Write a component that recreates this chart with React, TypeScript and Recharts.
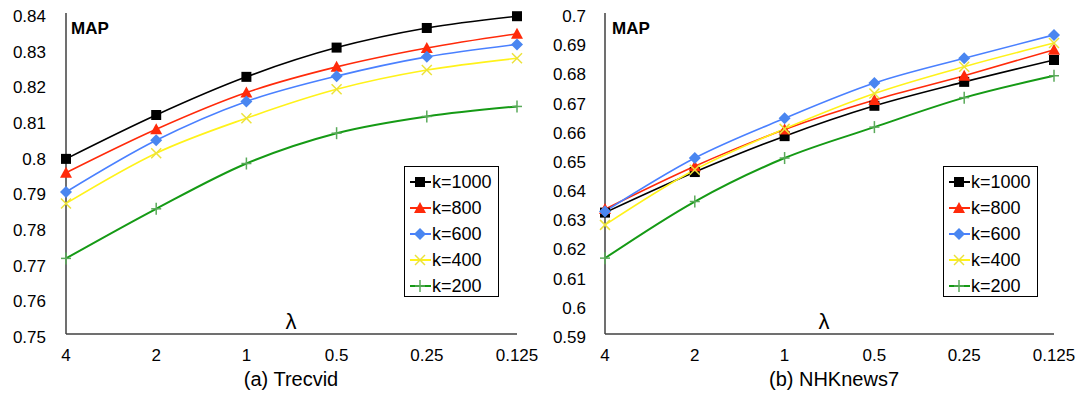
import React from 'react';
import { LineChart, Line, XAxis, YAxis } from 'recharts';

const lambdas = ['4', '2', '1', '0.5', '0.25', '0.125'];

// (a) Trecvid
const trecvidK1000 = [0.7991, 0.8114, 0.8221, 0.8303, 0.8358, 0.8391];
const trecvidK800 = [0.7952, 0.8074, 0.8177, 0.8249, 0.8302, 0.8342];
const trecvidK600 = [0.7898, 0.8043, 0.8152, 0.8223, 0.8277, 0.8312];
const trecvidK400 = [0.7866, 0.8007, 0.8105, 0.8186, 0.824, 0.8273];
const trecvidK200 = [0.7712, 0.7851, 0.7978, 0.8063, 0.811, 0.8138];
const trecvidTicks = [0.75, 0.76, 0.77, 0.78, 0.79, 0.8, 0.81, 0.82, 0.83, 0.84];

// (b) NHKnews7
const nhkK1000 = [0.6316, 0.6455, 0.6578, 0.6682, 0.6764, 0.6839];
const nhkK800 = [0.6328, 0.6475, 0.6601, 0.6702, 0.6785, 0.6874];
const nhkK600 = [0.632, 0.6503, 0.6639, 0.676, 0.6845, 0.6925];
const nhkK400 = [0.6274, 0.6463, 0.6603, 0.6724, 0.6816, 0.6897];
const nhkK200 = [0.616, 0.6354, 0.6503, 0.6609, 0.671, 0.6785];
const nhkTicks = [0.59, 0.6, 0.61, 0.62, 0.63, 0.64, 0.65, 0.66, 0.67, 0.68, 0.69, 0.7];

const series = [
  { key: 'k1000', name: 'k=1000', color: '#000000', mark: '#000000', marker: 'square' },
  { key: 'k800', name: 'k=800', color: '#ff2a0a', mark: '#ff2a0a', marker: 'triangle' },
  { key: 'k600', name: 'k=600', color: '#4a80ff', mark: '#4a86f0', marker: 'diamond' },
  { key: 'k400', name: 'k=400', color: '#fff21a', mark: '#ece23a', marker: 'cross' },
  { key: 'k200', name: 'k=200', color: '#159a15', mark: '#5aaa5a', marker: 'plus' },
];

const buildRows = (k1000: number[], k800: number[], k600: number[], k400: number[], k200: number[]) =>
  lambdas.map((l, i) => ({ lambda: l, k1000: k1000[i], k800: k800[i], k600: k600[i], k400: k400[i], k200: k200[i] }));

const trecvidData = buildRows(trecvidK1000, trecvidK800, trecvidK600, trecvidK400, trecvidK200);
const nhkData = buildRows(nhkK1000, nhkK800, nhkK600, nhkK400, nhkK200);

const FONT = '"Liberation Sans", Arial, sans-serif';

function Marker({ type, cx, cy, color }: { type: string; cx: number; cy: number; color: string }) {
  if (cx == null || cy == null) return null;
  switch (type) {
    case 'square':
      return <rect x={cx - 5} y={cy - 5} width={10} height={10} fill={color} />;
    case 'triangle':
      return <polygon points={`${cx},${cy - 6} ${cx + 6},${cy + 5} ${cx - 6},${cy + 5}`} fill={color} />;
    case 'diamond':
      return <polygon points={`${cx},${cy - 6} ${cx + 6},${cy} ${cx},${cy + 6} ${cx - 6},${cy}`} fill={color} />;
    case 'cross':
      return (
        <g stroke={color} strokeWidth={1.5}>
          <line x1={cx - 5} y1={cy - 5} x2={cx + 5} y2={cy + 5} />
          <line x1={cx - 5} y1={cy + 5} x2={cx + 5} y2={cy - 5} />
        </g>
      );
    default:
      return (
        <g stroke={color} strokeWidth={1.5}>
          <line x1={cx - 5} y1={cy} x2={cx + 5} y2={cy} />
          <line x1={cx} y1={cy - 6} x2={cx} y2={cy + 6} />
        </g>
      );
  }
}

const fmt = (v: number) => String(Number(v.toFixed(2)));

function LegendBox({ left }: { left: number }) {
  return (
    <div
      style={{
        position: 'absolute',
        left,
        top: 166,
        width: 95,
        height: 131,
        border: '1px solid #000',
        background: '#fff',
        padding: '2px 0 0 0',
        boxSizing: 'border-box',
      }}
    >
      {series.map((s) => (
        <div key={s.key} style={{ display: 'flex', alignItems: 'center', height: 26 }}>
          <svg width={27} height={26} style={{ flex: 'none' }}>
            <line x1={5} y1={13} x2={26} y2={13} stroke={s.color} strokeWidth={2} />
            <Marker type={s.marker} cx={15} cy={13} color={s.mark} />
          </svg>
          <span style={{ fontFamily: FONT, fontSize: 18, color: '#000', lineHeight: '26px' }}>{s.name}</span>
        </div>
      ))}
    </div>
  );
}

function Panel({ data, ticks, title, left, width, yWidth, rightMargin, legendLeft, mapLeft, lambdaX, titleX }: any) {
  return (
    <div style={{ position: 'absolute', left, top: 0, width, height: 398 }}>
      <LineChart width={width} height={398} data={data} margin={{ top: 13, right: rightMargin, bottom: 0, left: 0 }}>
        <XAxis
          dataKey="lambda"
          height={64}
          tickLine={false}
          tickSize={0}
          tickMargin={0}
          axisLine={{ stroke: '#404040', strokeWidth: 1.5 }}
          interval={0}
          tick={({ x, y, payload }: any) => (
            <text x={x} y={y + 21} textAnchor="middle" dominantBaseline="central" fontFamily={FONT} fontSize={17} fill="#000">
              {payload.value}
            </text>
          )}
        />
        <YAxis
          width={yWidth}
          domain={[ticks[0], ticks[ticks.length - 1]]}
          ticks={ticks}
          interval={0}
          tickLine={false}
          tickSize={0}
          tickMargin={yWidth - 46}
          axisLine={{ stroke: '#404040', strokeWidth: 1.5 }}
          tick={({ x, y, payload }: any) => (
            <text x={x} y={y + 3.5} textAnchor="end" dominantBaseline="central" fontFamily={FONT} fontSize={17} fill="#000">
              {fmt(payload.value)}
            </text>
          )}
        />
        {series.map((s) => (
          <Line
            key={s.key}
            type="monotone"
            dataKey={s.key}
            name={s.name}
            stroke={s.color}
            strokeWidth={s.key === 'k200' ? 2 : 1.6}
            isAnimationActive={false}
            dot={(p: any) => <Marker key={`${s.key}-${p.index}`} type={s.marker} cx={p.cx} cy={p.cy} color={s.mark} />}
            activeDot={false}
          />
        ))}
      </LineChart>
      <LegendBox left={legendLeft} />
      <div style={{ position: 'absolute', left: mapLeft, top: 18, fontFamily: FONT, fontWeight: 'bold', fontSize: 17, lineHeight: '22px' }}>MAP</div>
      <div style={{ position: 'absolute', left: lambdaX - 20, width: 40, top: 309, textAlign: 'center', fontFamily: FONT, fontSize: 22, lineHeight: '26px' }}>λ</div>
      <div style={{ position: 'absolute', left: titleX - 100, width: 200, top: 367, textAlign: 'center', fontFamily: FONT, fontSize: 20, lineHeight: '24px' }}>{title}</div>
    </div>
  );
}

export default function App() {
  return (
    <div style={{ position: 'fixed', left: 0, top: 0, width: 1083, height: 398, background: '#fff', overflow: 'hidden' }}>
      <Panel data={trecvidData} ticks={trecvidTicks} title="(a) Trecvid" left={0} width={540} yWidth={66} rightMargin={23} legendLeft={404} mapLeft={71} lambdaX={291} titleX={291} />
      <Panel data={nhkData} ticks={nhkTicks} title="(b) NHKnews7" left={540} width={543} yWidth={65} rightMargin={29} legendLeft={403} mapLeft={72} lambdaX={284} titleX={294} />
    </div>
  );
}
